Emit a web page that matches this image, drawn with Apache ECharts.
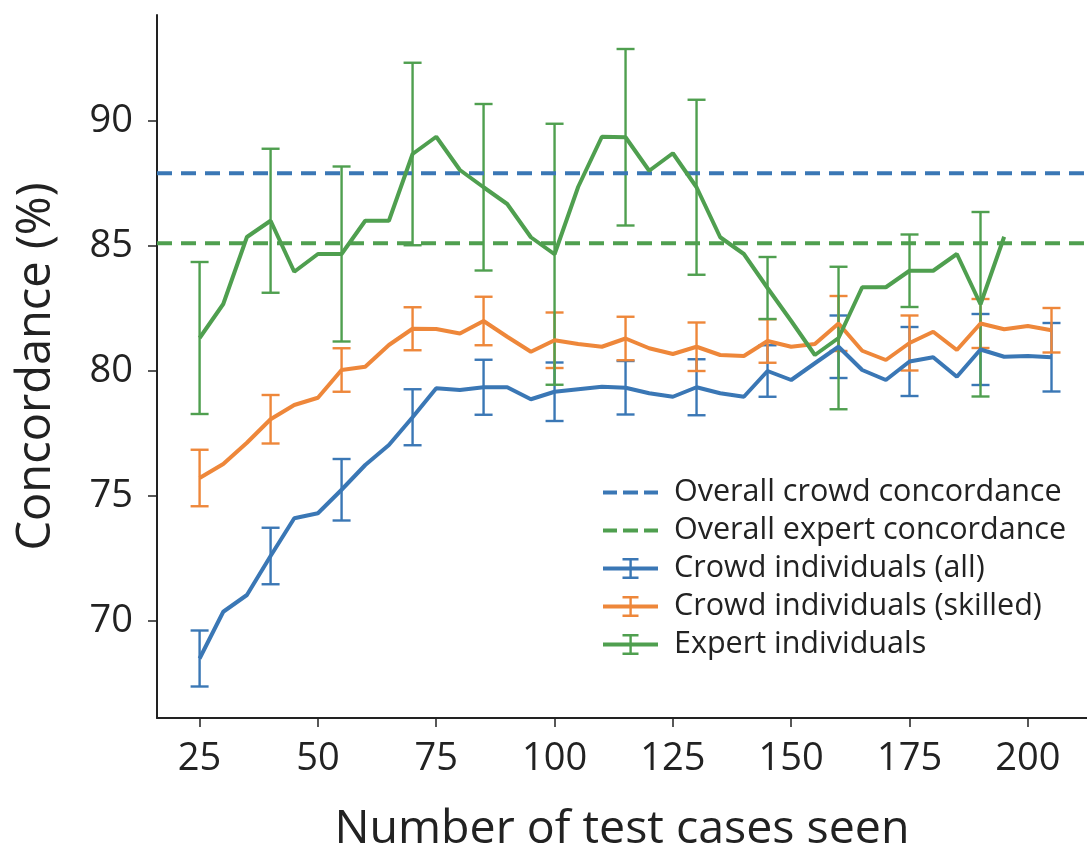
<!DOCTYPE html>
<html>
<head>
<meta charset="utf-8">
<script src="https://cdn.jsdelivr.net/npm/echarts@6/dist/echarts.min.js"></script>
<style>
  html, body { margin: 0; padding: 0; background: #fff; }
  #chart { width: 1087px; height: 847px; }
</style>
</head>
<body>
<div id="chart"></div>
<script>
'use strict';

// test-case counts, every 5
var crowdX = [25, 30, 35, 40, 45, 50, 55, 60, 65, 70, 75, 80, 85, 90, 95, 100, 105, 110, 115, 120,
  125, 130, 135, 140, 145, 150, 155, 160, 165, 170, 175, 180, 185, 190, 195, 200, 205];
var expertX = crowdX.slice(0, 35);
// error bars are only drawn every 15 cases
var errX = [25, 40, 55, 70, 85, 100, 115, 130, 145, 160, 175, 190, 205];

var crowdAll = [68.5, 70.37, 71.04, 72.6, 74.11, 74.31, 75.25, 76.24, 77.04, 78.15,
  79.31, 79.24, 79.35, 79.35, 78.87, 79.17, 79.27, 79.37, 79.33, 79.11,
  78.97, 79.35, 79.11, 78.97, 80.0, 79.64, 80.31, 80.97, 80.04, 79.64,
  80.38, 80.55, 79.77, 80.86, 80.57, 80.6, 80.55];
var crowdAllErr = [1.12, 1.13, 1.23, 1.12, 1.1, 1.17, 1.07, 1.12, 1.03, 1.25, 1.38, 1.42, 1.37];

var crowdSkilled = [75.72, 76.28, 77.13, 78.07, 78.64, 78.93, 80.04, 80.17, 81.04, 81.69,
  81.68, 81.5, 82.0, 81.37, 80.77, 81.23, 81.08, 80.97, 81.3, 80.91,
  80.68, 80.97, 80.64, 80.6, 81.2, 80.97, 81.08, 81.9, 80.81, 80.44,
  81.12, 81.57, 80.84, 81.9, 81.67, 81.8, 81.63];
var crowdSkilledErr = [1.13, 0.97, 0.87, 0.86, 0.97, 1.11, 0.87, 0.97, 0.87, 1.1, 1.1, 0.98, 0.89];

var expert = [81.32, 82.68, 85.36, 86.01, 83.97, 84.68, 84.68, 86.01, 86.01, 88.68,
  89.37, 88.04, 87.35, 86.68, 85.35, 84.67, 87.37, 89.37, 89.35, 88.01,
  88.71, 87.35, 85.35, 84.68, 83.32, 82.0, 80.64, 81.32, 83.35, 83.35,
  84.01, 84.01, 84.68, 82.67, 85.37];
var expertErr = [3.04, 2.88, 3.5, 3.65, 3.33, 5.22, 3.53, 3.5, 1.24, 2.85, 1.45, 3.69];

var overallCrowd = 87.91;
var overallExpert = 85.11;

var xTicks = [25, 50, 75, 100, 125, 150, 175, 200];
var yTicks = [70, 75, 80, 85, 90];
var xMin = 16, xMax = 212.5;
var yMin = 66.12, yMax = 94.24;

var BLUE = '#3a77b5';
var ORANGE = '#ee873a';
var GREEN = '#4f9f4f';
var FONT = 'Open Sans';

function pairs(xs, ys) {
  return xs.map(function (x, i) { return [x, ys[i]]; });
}

// [x, centre, half width] for each error bar
function errData(xs, ys, errs) {
  return errs.map(function (e, i) {
    var x = errX[i];
    return [x, ys[xs.indexOf(x)], e];
  });
}

function renderErr(color) {
  return function (params, api) {
    var x = api.value(0), c = api.value(1), e = api.value(2);
    var top = api.coord([x, c + e]);
    var bot = api.coord([x, c - e]);
    var cap = 9;
    var style = { stroke: color, lineWidth: 2.4 };
    return {
      type: 'group',
      children: [
        { type: 'line', shape: { x1: top[0], y1: top[1], x2: bot[0], y2: bot[1] }, style: style },
        { type: 'line', shape: { x1: top[0] - cap, y1: top[1], x2: top[0] + cap, y2: top[1] }, style: style },
        { type: 'line', shape: { x1: bot[0] - cap, y1: bot[1], x2: bot[0] + cap, y2: bot[1] }, style: style }
      ]
    };
  };
}

var dashIcon = 'path://M0,8h14v4h-14z M20,8h15v4h-15z M41,8h14v4h-14z M0,0h0.1v0.1h-0.1z M54.9,19.9h0.1v0.1h-0.1z';
var errIcon = 'path://M0,8.5h55v4h-55z M26.4,0h2.4v21h-2.4z M19.5,0h16v2.4h-16z M19.5,18.6h16v2.4h-16z';

var names = ['Overall crowd concordance', 'Overall expert concordance',
  'Crowd individuals (all)', 'Crowd individuals (skilled)', 'Expert individuals'];

var option = {
  animation: false,
  backgroundColor: '#fff',
  grid: { left: 157, right: 0, top: 15, bottom: 129, outerBoundsMode: 'none' },
  legend: {
    orient: 'vertical',
    left: 598,
    top: 472,
    itemWidth: 55,
    itemHeight: 21,
    itemGap: 7,
    textStyle: { fontFamily: FONT, fontSize: 30.5, lineHeight: 31, color: '#222', padding: [0, 0, 0, 11] },
    data: [
      { name: names[0], icon: dashIcon, itemStyle: { color: BLUE } },
      { name: names[1], icon: dashIcon, itemStyle: { color: GREEN } },
      { name: names[2], icon: errIcon, itemStyle: { color: BLUE } },
      { name: names[3], icon: errIcon, itemStyle: { color: ORANGE } },
      { name: names[4], icon: errIcon, itemStyle: { color: GREEN } }
    ]
  },
  xAxis: {
    type: 'value',
    min: xMin,
    max: xMax,
    name: 'Number of test cases seen',
    nameLocation: 'middle',
    nameGap: 88,
    nameTextStyle: { fontFamily: FONT, fontSize: 46.5, color: '#222' },
    axisLine: { lineStyle: { color: '#222', width: 2 } },
    axisTick: { show: true, length: 9, customValues: xTicks, lineStyle: { color: '#222', width: 1.5 } },
    axisLabel: { customValues: xTicks, fontFamily: FONT, fontSize: 38, color: '#222', margin: 22 },
    splitLine: { show: false }
  },
  yAxis: {
    type: 'value',
    min: yMin,
    max: yMax,
    name: 'Concordance (%)',
    nameLocation: 'middle',
    nameGap: 97,
    nameTextStyle: { fontFamily: FONT, fontSize: 47, color: '#222' },
    axisLine: { show: true, lineStyle: { color: '#222', width: 2 } },
    axisTick: { show: true, length: 9, customValues: yTicks, lineStyle: { color: '#222', width: 1.5 } },
    axisLabel: { customValues: yTicks, fontFamily: FONT, fontSize: 38, color: '#222', margin: 24 },
    splitLine: { show: false }
  },
  series: [
    {
      name: names[0], type: 'line', showSymbol: false, silent: true,
      data: [[xMin, overallCrowd], [xMax, overallCrowd]],
      lineStyle: { color: BLUE, width: 4, type: [15, 9] }, itemStyle: { color: BLUE }
    },
    {
      name: names[1], type: 'line', showSymbol: false, silent: true,
      data: [[xMin, overallExpert], [xMax, overallExpert]],
      lineStyle: { color: GREEN, width: 4, type: [15, 9] }, itemStyle: { color: GREEN }
    },
    {
      name: names[2], type: 'line', showSymbol: false, data: pairs(crowdX, crowdAll),
      lineStyle: { color: BLUE, width: 4 }, itemStyle: { color: BLUE }
    },
    {
      name: names[2], type: 'custom', renderItem: renderErr(BLUE),
      data: errData(crowdX, crowdAll, crowdAllErr), encode: { x: 0, y: 1 }
    },
    {
      name: names[3], type: 'line', showSymbol: false, data: pairs(crowdX, crowdSkilled),
      lineStyle: { color: ORANGE, width: 4 }, itemStyle: { color: ORANGE }
    },
    {
      name: names[3], type: 'custom', renderItem: renderErr(ORANGE),
      data: errData(crowdX, crowdSkilled, crowdSkilledErr), encode: { x: 0, y: 1 }
    },
    {
      name: names[4], type: 'line', showSymbol: false, data: pairs(expertX, expert),
      lineStyle: { color: GREEN, width: 4 }, itemStyle: { color: GREEN }
    },
    {
      name: names[4], type: 'custom', renderItem: renderErr(GREEN),
      data: errData(expertX, expert, expertErr), encode: { x: 0, y: 1 }
    }
  ]
};

var myChart = echarts.init(document.getElementById('chart'));
myChart.setOption(option);
</script>
</body>
</html>
